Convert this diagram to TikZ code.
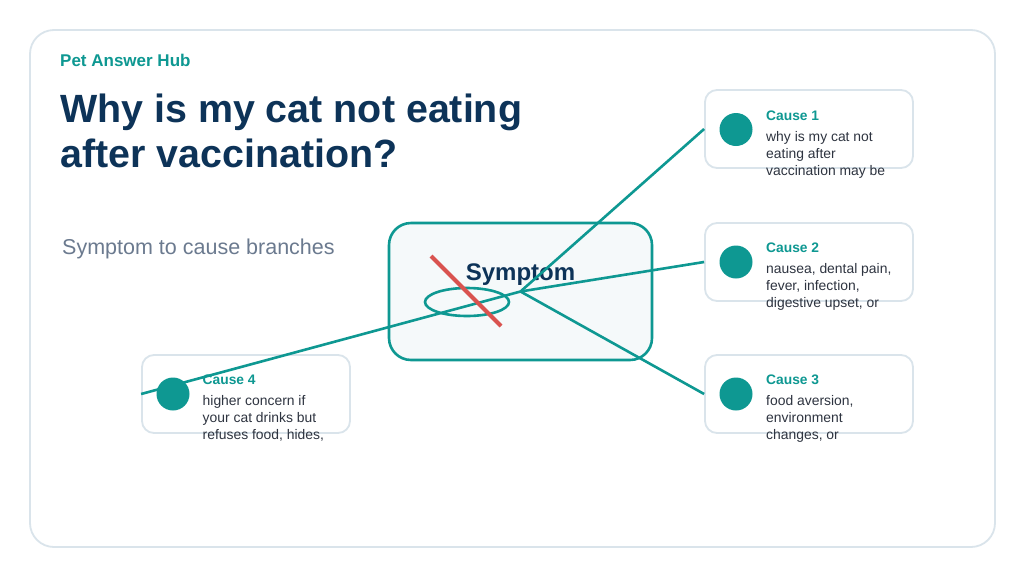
\documentclass[tikz,border=0pt]{standalone}
\usepackage{fontspec}
\setmainfont{Liberation Sans}
\definecolor{brandteal}{HTML}{0E9892}
\definecolor{navy}{HTML}{0D3358}
\definecolor{framecol}{HTML}{DAE4EB}
\definecolor{subgray}{HTML}{6B7A8F}
\definecolor{bodycol}{HTML}{2E3440}
\definecolor{slashred}{HTML}{D9534F}
\definecolor{symfill}{HTML}{F5F9FA}
\begin{document}
\begin{tikzpicture}[x=1pt,y=-1pt,
  frame/.style={draw=framecol,line width=1.8pt,rounded corners=24pt,fill=white,minimum width=965pt,minimum height=517pt,inner sep=0pt},
  card/.style={draw=framecol,line width=1.8pt,rounded corners=12pt,fill=white,minimum width=208pt,minimum height=78pt,inner sep=0pt},
  dot/.style={circle,fill=brandteal,minimum size=33pt,inner sep=0pt},
  symbox/.style={draw=brandteal,line width=2.6pt,rounded corners=22pt,fill=symfill,minimum width=263pt,minimum height=137pt,inner sep=0pt},
  brand/.style={font=\fontsize{17}{20}\selectfont\bfseries,text=brandteal,anchor=base west,inner sep=0pt},
  title/.style={font=\fontsize{39.4}{45}\selectfont\bfseries,text=navy,anchor=base west,inner sep=0pt},
  sub/.style={font=\fontsize{21.5}{25}\selectfont,text=subgray,anchor=base west,inner sep=0pt},
  symlabel/.style={font=\fontsize{24}{28}\selectfont\bfseries,text=navy,anchor=base,inner sep=0pt},
  ctitle/.style={font=\fontsize{13.8}{17}\selectfont\bfseries,text=brandteal,anchor=base west,inner sep=0pt},
  cbody/.style={font=\fontsize{13.9}{17}\selectfont,text=bodycol,anchor=base west,inner sep=0pt},
  conn/.style={draw=brandteal,line width=2.6pt}
]
\useasboundingbox (0,0) rectangle (1024,576);
\fill[white] (0,0) rectangle (1024,576);
\node[frame] (frame) at (512.5,288.5) {};

\node[brand] (brandname) at (60,66) {Pet Answer Hub};
\node[title] (title1) at (60,122) {Why is my cat not eating};
\node[title] (title2) at (60,167) {after vaccination?};
\node[sub] (subtitle) at (62,254) {Symptom to cause branches};

% central symptom box
\node[symbox] (sym) at (520.5,291.5) {};
\node[symlabel] (symtext) at (520.5,280) {Symptom};
\draw[brandteal,line width=2.6pt] (467,302) ellipse [x radius=42pt,y radius=14pt];

% cards
\node[card] (c1) at (809,129) {};
\node[card] (c2) at (809,262) {};
\node[card] (c3) at (809,394) {};
\node[card] (c4) at (246,394) {};

\node[dot] (d1) at (736,129.5) {};
\node[dot] (d2) at (736,262) {};
\node[dot] (d3) at (736,394) {};
\node[dot] (d4) at (173,394) {};

\node[ctitle] (t1) at (766,120) {Cause 1};
\node[cbody] (b1a) at (766,141) {why is my cat not};
\node[cbody] (b1b) at (766,158) {eating after};
\node[cbody] (b1c) at (766,175) {vaccination may be};

\node[ctitle] (t2) at (766,252) {Cause 2};
\node[cbody] (b2a) at (766,273) {nausea, dental pain,};
\node[cbody] (b2b) at (766,290) {fever, infection,};
\node[cbody] (b2c) at (766,307) {digestive upset, or};

\node[ctitle] (t3) at (766,384.5) {Cause 3};
\node[cbody] (b3a) at (766,405.5) {food aversion,};
\node[cbody] (b3b) at (766,422.5) {environment};
\node[cbody] (b3c) at (766,439.5) {changes, or};

\node[ctitle] (t4) at (202.5,384.5) {Cause 4};
\node[cbody] (b4a) at (202.5,405.5) {higher concern if};
\node[cbody] (b4b) at (202.5,422.5) {your cat drinks but};
\node[cbody] (b4c) at (202.5,439.5) {refuses food, hides,};

% connectors
\draw[conn] (sym.center) -- (c1.west);
\draw[conn] (sym.center) -- (c2.west);
\draw[conn] (sym.center) -- (c3.west);
\draw[conn] (sym.center) -- (c4.west);

% slash of the icon
\draw[slashred,line width=4pt] (431,256) -- (501,326);
\end{tikzpicture}
\end{document}
